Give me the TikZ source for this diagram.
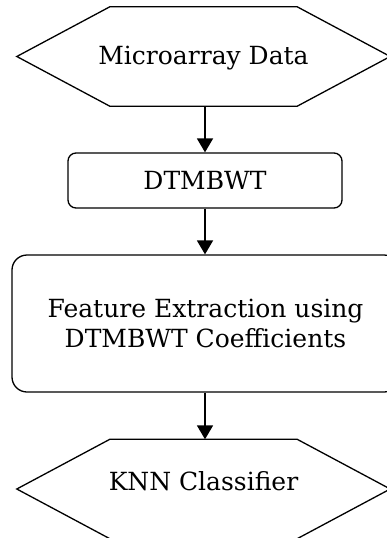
\documentclass[tikz,border=0pt]{standalone}
\usepackage{fontspec}
\setmainfont{DejaVu Serif}
\usetikzlibrary{arrows.meta}
\begin{document}
\begin{tikzpicture}[x=1pt,y=1pt,
  lbl/.style={font=\fontsize{25}{30}\selectfont, align=center, inner sep=0pt},
  hexnode/.style={lbl, draw=none, minimum width=373pt, minimum height=99pt},
  hexline/.style={line width=1.3pt, line join=miter},
  roundbox/.style={lbl, draw, line width=1.3pt},
  flow/.style={line width=1.8pt, -{Triangle[length=14pt,width=16pt]}}
]
\useasboundingbox (0,0) rectangle (387,-538);

% input hexagon (baseline placed relative to the shape's centre)
\node[hexnode] (mic) at (203.5,-56.5) {\raisebox{-7.5pt}[0pt][0pt]{Microarray Data}};
\draw[hexline] (mic.west) -- ([xshift=93pt]mic.north west) -- ([xshift=-93pt]mic.north east)
  -- (mic.east) -- ([xshift=-93pt]mic.south east) -- ([xshift=93pt]mic.south west) -- cycle;

% transform step
\node[roundbox, rounded corners=8pt, minimum width=274pt, minimum height=55pt] (dtm) at (205,-180.5) {DTMBWT};

% feature extraction step
\node[roundbox, rounded corners=15pt, minimum width=387pt, minimum height=137pt] (fex) at (205.5,-323.5)
  {Feature Extraction using\\DTMBWT Coefficients};

% output hexagon
\node[hexnode] (knn) at (203.5,-489) {\raisebox{-1.2pt}[0pt][0pt]{KNN Classifier}};
\draw[hexline] (knn.west) -- ([xshift=93pt]knn.north west) -- ([xshift=-93pt]knn.north east)
  -- (knn.east) -- ([xshift=-93pt]knn.south east) -- ([xshift=93pt]knn.south west) -- cycle;

% connectors
\draw[flow] (mic.south -| dtm.north) -- (dtm.north);
\draw[flow] (dtm.south) -- (dtm.south |- fex.north);
\draw[flow] (fex.south -| dtm.south) -- (dtm.south |- knn.north);
\end{tikzpicture}
\end{document}
